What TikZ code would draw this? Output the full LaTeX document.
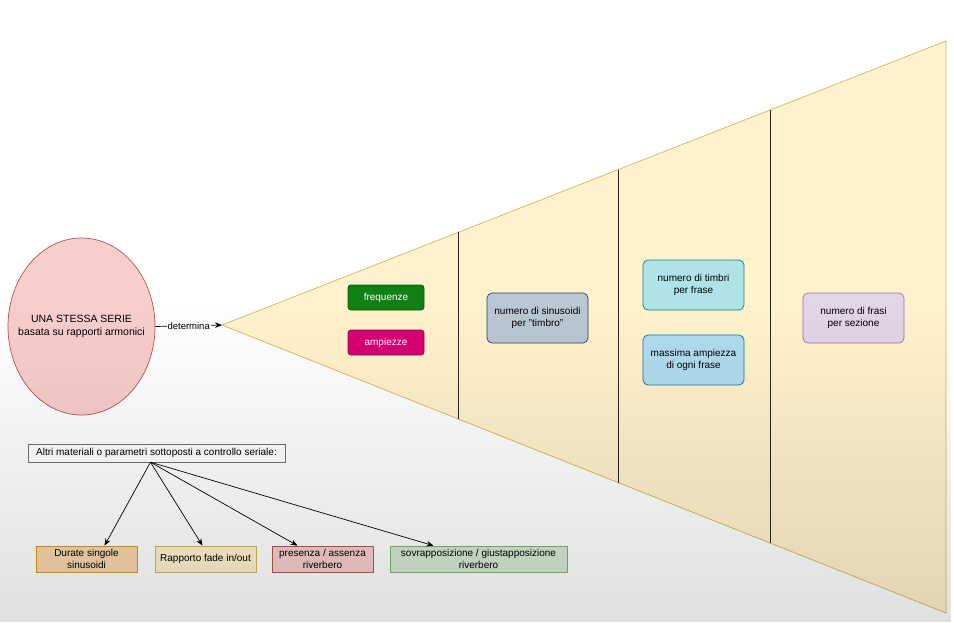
\documentclass[tikz,border=0pt]{standalone}
\usepackage{fontspec}
\setmainfont{Liberation Sans}
\usetikzlibrary{arrows.meta,positioning,shapes.geometric,calc,fadings}
\definecolor{srYellow}{HTML}{FFF2CC}
\definecolor{srYellowD}{HTML}{D6B656}
\definecolor{srRed}{HTML}{F8CECC}
\definecolor{srRedD}{HTML}{B85450}
\definecolor{srGreen}{HTML}{118014}
\definecolor{srGreenD}{HTML}{005700}
\definecolor{srPink}{HTML}{D80073}
\definecolor{srPinkD}{HTML}{A50040}
\definecolor{srSlate}{HTML}{BAC8D3}
\definecolor{srSlateD}{HTML}{23445D}
\definecolor{srTeal}{HTML}{B0E3E6}
\definecolor{srTealD}{HTML}{0E8088}
\definecolor{srBlue}{HTML}{B1DDF0}
\definecolor{srBlueD}{HTML}{10739E}
\definecolor{srLilac}{HTML}{E1D5E7}
\definecolor{srLilacD}{HTML}{9673A6}
\definecolor{srOrange}{HTML}{FAD7AC}
\definecolor{srOrangeD}{HTML}{D79B00}
\definecolor{srMint}{HTML}{D5E8D4}
\definecolor{srMintD}{HTML}{82B366}

\begin{document}
\begin{tikzpicture}[x=1pt,y=-1pt,
  srtxt/.style={font=\fontsize{10}{11.5}\selectfont},
  serbox/.style={srtxt,draw,rounded corners=5pt,minimum width=101pt,minimum height=50pt,
    align=center,inner sep=2pt,line width=0.7pt},
  tagbox/.style={srtxt,draw,rounded corners=3pt,minimum width=76pt,minimum height=25pt,
    text=white,line width=0.7pt},
  parbox/.style={srtxt,draw,minimum width=101pt,minimum height=26pt,align=center,
    inner sep=1pt,line width=0.7pt},
  divider/.style={draw=black!85,line width=0.8pt},
  serarrow/.style={-{Stealth[length=7pt,width=5.5pt]},line width=0.7pt}
]
  \useasboundingbox (0,0) rectangle (954,622);
  % background
  \fill[white] (0,0) rectangle (954,622);

  % the widening cone
  \coordinate (apex) at (222,325);
  \coordinate (tr) at (946,41);
  \coordinate (br) at (946,613);
  \filldraw[fill=srYellow,draw=srYellowD,line width=0.7pt] (apex) -- (tr) -- (br) -- cycle;
  \foreach \t in {0.327,0.547,0.758}
    \draw[divider] ($(apex)!\t!(tr)$) -- ($(apex)!\t!(br)$);

  % the series
  \node[ellipse,draw=srRedD,fill=srRed,line width=0.7pt,minimum width=147pt,minimum height=177pt,
    inner sep=0pt] (serie) at (81.5,326.5) {};
  \node[align=center,font=\fontsize{10.5}{12.5}\selectfont] (serietxt) at (serie.center)
    {UNA STESSA SERIE\\basata su rapporti armonici};
  \draw[serarrow] (serie.east) -- node[font=\fontsize{9.5}{11}\selectfont,fill=white,inner sep=1pt] {determina} (apex);

  % section 1
  \node[tagbox,fill=srGreen,draw=srGreenD] (freq) at (386,297.5) {frequenze};
  \node[tagbox,fill=srPink,draw=srPinkD] (ampl) at (386,342.5) {ampiezze};
  % section 2
  \node[serbox,fill=srSlate,draw=srSlateD] (sinus) at (537.5,318) {numero di sinusoidi\\per "timbro"};
  % section 3
  \node[serbox,fill=srTeal,draw=srTealD] (timbri) at (693.5,285) {numero di timbri\\per frase};
  \node[serbox,fill=srBlue,draw=srBlueD] (maxamp) at (693.5,360) {massima ampiezza\\di ogni frase};
  % section 4
  \node[serbox,fill=srLilac,draw=srLilacD] (frasi) at (853.5,318) {numero di frasi\\per sezione};

  % other serial parameters
  \node[srtxt,draw=black!55,fill=white,minimum width=257pt,minimum height=18pt,inner sep=2pt] (altri)
    at (156.5,453) {Altri materiali o parametri sottoposti a controllo seriale:};
  \node[parbox,fill=srOrange,draw=srOrangeD] (durate) at (86.5,559) {Durate singole\\sinusoidi};
  \node[parbox,fill=srYellow,draw=srYellowD] (fade) at (205.5,559) {Rapporto fade in/out};
  \node[parbox,fill=srRed,draw=srRedD] (presenza) at (322.5,559) {presenza / assenza\\riverbero};
  \node[parbox,fill=srMint,draw=srMintD,minimum width=177pt] (sovra) at (478.5,559)
    {sovrapposizione / giustapposizione\\riverbero};
  \coordinate (fork) at ([xshift=-6pt]altri.south);
  \draw[serarrow] (fork) -- ([xshift=18pt]durate.north);
  \draw[serarrow] (fork) -- ([xshift=-3pt]fade.north);
  \draw[serarrow] (fork) -- ([xshift=-25pt]presenza.north);
  \draw[serarrow] (fork) -- ([xshift=-45pt]sovra.north);

  % screen vignette towards the bottom
  \fill[black,opacity=0.12,path fading=north] (0,300) rectangle (954,622);
\end{tikzpicture}
\end{document}
